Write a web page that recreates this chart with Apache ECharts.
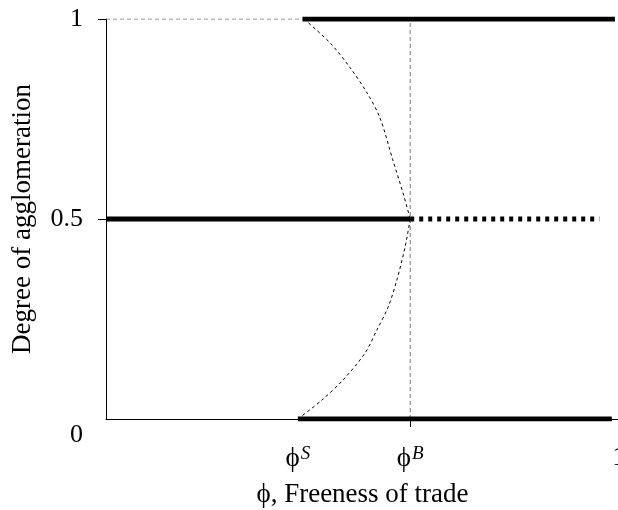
<!DOCTYPE html>
<html>
<head>
<meta charset="utf-8">
<script src="https://cdn.jsdelivr.net/npm/echarts@6/dist/echarts.min.js"></script>
<style>
  html, body { margin: 0; padding: 0; background: #fff; }
  #chart { width: 618px; height: 510px; }
</style>
</head>
<body>
<div id="chart"></div>
<script>
// Break and sustain points on the freeness-of-trade axis
const phiS = 0.374;
const phiB = 0.593;

// Stable equilibria (thick lines)
const coreTop = [[0.383, 1], [0.992, 1]];
const symmetricStable = [[0, 0.5], [phiB, 0.5]];
const coreBottom = [[phiS, 0], [0.986, 0]];
// Symmetric equilibrium once it is unstable (thick dotted)
const symmetricUnstable = [[phiB, 0.5], [0.962, 0.5]];
// Guides
const topGuide = [[0, 1], [0.383, 1]];
const breakGuide = [[phiB, 0], [phiB, 1]];
// Unstable interior equilibria (thin dashed curves)
const interiorUpper = [
  [0.386, 1.0], [0.437, 0.94], [0.476, 0.878], [0.509, 0.815], [0.534, 0.753],
  [0.559, 0.648], [0.579, 0.565], [phiB, 0.5]
];
const interiorLower = [
  [phiB, 0.5], [0.583, 0.43], [0.567, 0.3475], [0.550, 0.28], [0.528, 0.2225],
  [0.505, 0.165], [0.462, 0.0975], [0.421, 0.0475], [phiS, 0]
];

// Axis ticks and labels
const yLabelValues = [0, 0.5, 1];
const yTickValues = [0.5, 1];
const xLabelValues = [phiS, phiB, 1];
const xTickValues = [phiB];
const xLabelText = ['ϕ{sup|S}', 'ϕ{sup|B}', '1'];
const xTitle = 'ϕ, Freeness of trade';
const yTitle = 'Degree of agglomeration';

const FONT = '"Liberation Serif", "Times New Roman", serif';

const chart = echarts.init(document.getElementById('chart'));

function seg(data, width, color, type, z, smooth) {
  return {
    type: 'line', data: data, symbol: 'none', silent: true, z: z,
    smooth: smooth || false,
    lineStyle: { width: width, color: color, type: type, cap: 'butt' }
  };
}

chart.setOption({
  animation: false,
  backgroundColor: '#fff',
  grid: { left: 106, top: 19, width: 513, height: 400, containLabel: false, outerBoundsMode: 'none' },
  xAxis: {
    type: 'value', min: 0, max: 1,
    name: xTitle, nameLocation: 'middle', nameGap: 62,
    nameTextStyle: { fontFamily: FONT, fontSize: 27, color: '#000' },
    axisLine: { lineStyle: { color: '#000', width: 1 } },
    axisTick: { show: true, customValues: xTickValues, length: 8, lineStyle: { color: '#000' } },
    axisLabel: {
      customValues: xLabelValues, margin: 25, fontFamily: FONT, fontSize: 27, color: '#000',
      formatter: function (v) {
        const i = xLabelValues.indexOf(v);
        return i >= 0 ? xLabelText[i] : '';
      },
      rich: {
        sup: { fontFamily: FONT, fontSize: 19, fontStyle: 'italic', color: '#000', verticalAlign: 'top', padding: [0, 0, 10, 1] }
      }
    },
    splitLine: { show: false }
  },
  yAxis: {
    type: 'value', min: 0, max: 1,
    name: yTitle, nameLocation: 'middle', nameGap: 70, nameRotate: 90,
    nameTextStyle: { fontFamily: FONT, fontSize: 27, color: '#000' },
    axisLine: { show: true, lineStyle: { color: '#000', width: 1 } },
    axisTick: { show: true, customValues: yTickValues, length: 8, lineStyle: { color: '#000' } },
    axisLabel: {
      customValues: yLabelValues, margin: 23, fontFamily: FONT, fontSize: 26, color: '#000',
      formatter: function (v) { return v === 0 ? '{o|0}' : String(v); },
      rich: { o: { fontFamily: FONT, fontSize: 26, color: '#000', padding: [32, 0, 0, 0] } }
    },
    splitLine: { show: false }
  },
  series: [
    seg(topGuide, 1, '#777', [4, 3], 2),
    seg(breakGuide, 1, '#777', [4, 3], 2),
    seg(interiorUpper, 1, '#000', [3, 3], 3, 0.3),
    seg(interiorLower, 1, '#000', [3, 3], 3, 0.3),
    seg(symmetricUnstable, 5, '#000', [4, 5], 4),
    seg(coreTop, 5, '#000', 'solid', 5),
    seg(symmetricStable, 5, '#000', 'solid', 5),
    seg(coreBottom, 5, '#000', 'solid', 5)
  ]
});
</script>
</body>
</html>
